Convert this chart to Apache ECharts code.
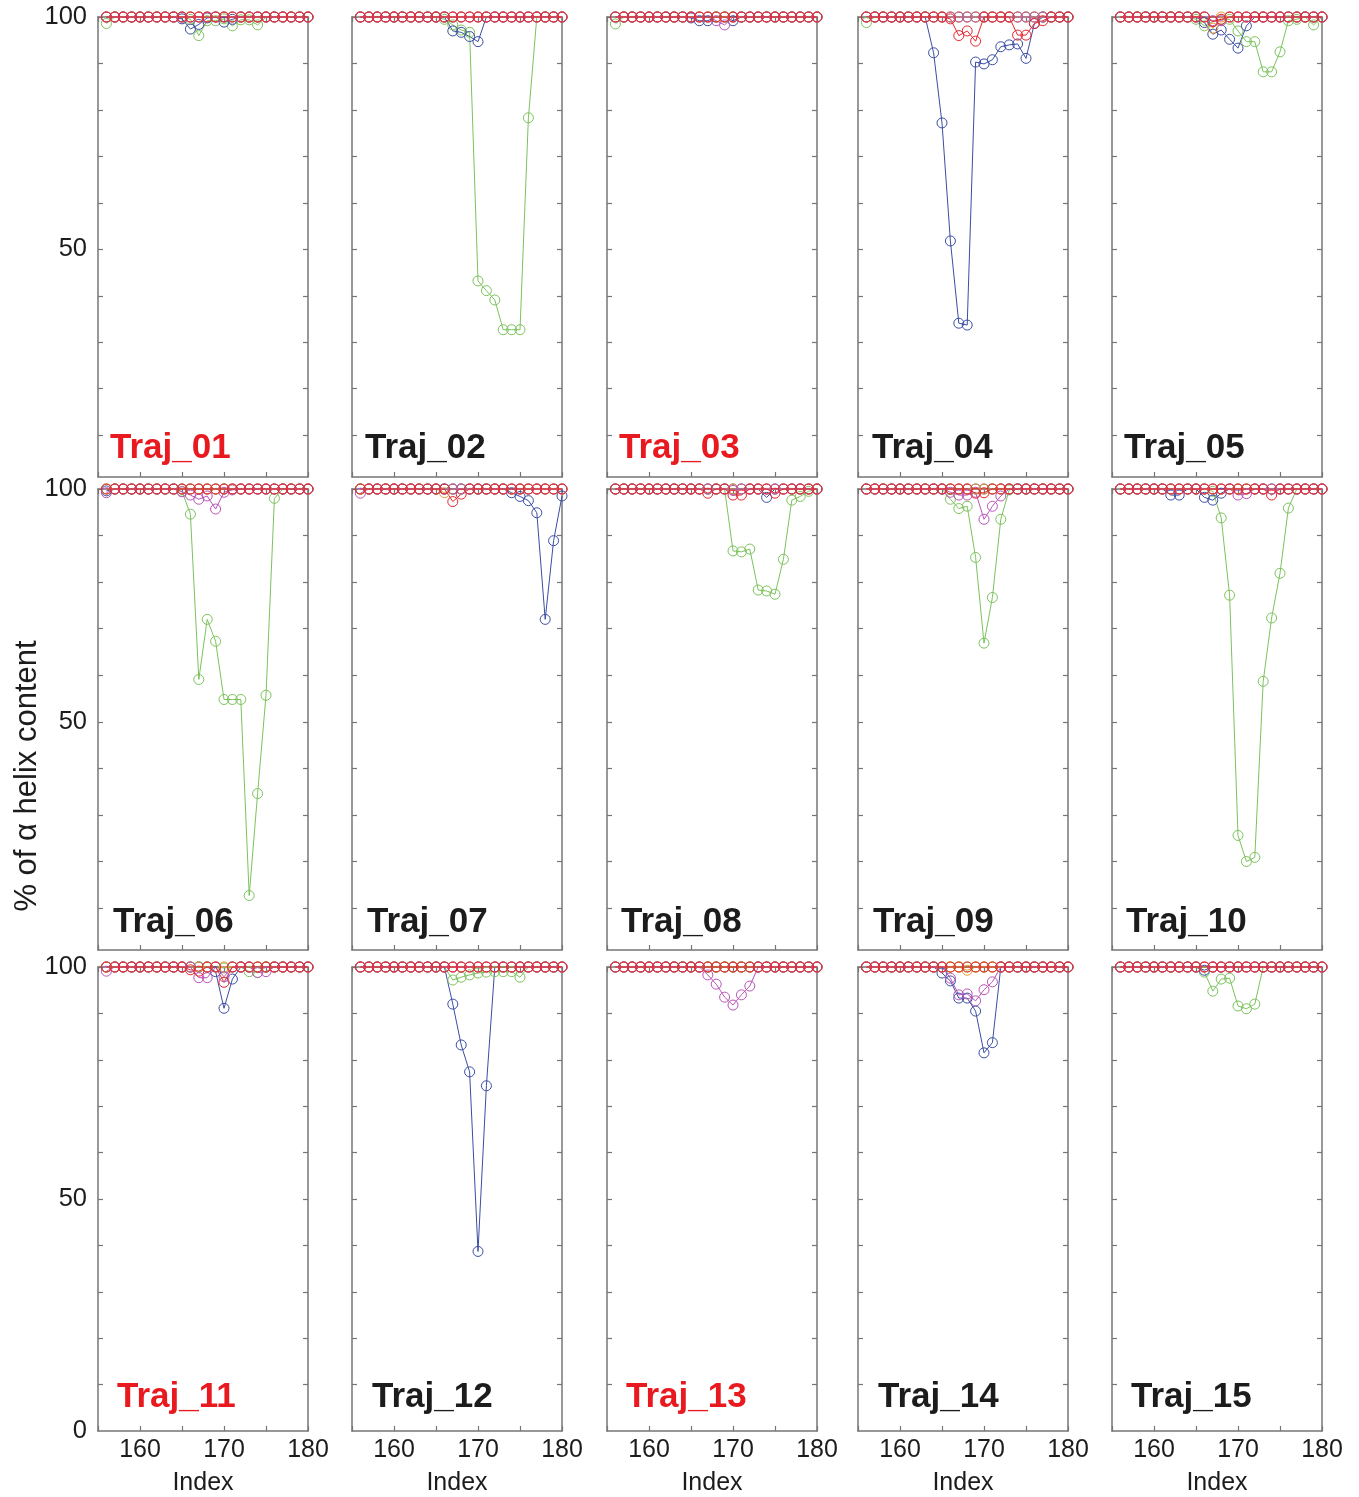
<!DOCTYPE html>
<html>
<head>
<meta charset="utf-8">
<title>% of α helix content per residue</title>
<script src="https://cdn.jsdelivr.net/npm/echarts@6/dist/echarts.min.js"></script>
<style>
  html, body { margin: 0; padding: 0; background: #ffffff; }
  #chart { width: 1359px; height: 1497px; }
</style>
</head>
<body>
<div id="chart"></div>
<script>
// Residue indices on the x axis
const residueIndex = [156,157,158,159,160, 161,162,163,164,165, 166,167,168,169,170, 171,172,173,174,175, 176,177,178,179,180];
const xTickLabels = [160, 170, 180];
const yTickLabelsTop = [50, 100];
const yTickLabelsBottom = [0, 50, 100];
const yTickMarks = [10, 20, 30, 40, 50, 60, 70, 80, 90, 100];

const trajNames = ['Traj_01','Traj_02','Traj_03','Traj_04','Traj_05',
                   'Traj_06','Traj_07','Traj_08','Traj_09','Traj_10',
                   'Traj_11','Traj_12','Traj_13','Traj_14','Traj_15'];
const redTitles = ['Traj_01','Traj_03','Traj_11','Traj_13'];

// Helix content (%) per residue, one array per trajectory and replica colour
const t01_blue    = [100,100,100,100,100, 100,100,100,100,99.6, 97.4,98.4,99.8,100,98.9, 99.5,100,100,100,100, 100,100,100,100,100];
const t01_green   = [98.6,100,100,100,100, 100,100,100,100,100, 99.5,96.0,99.2,99.2,99.6, 98.1,99.4,99.4,98.3,100, 100,100,100,100,100];
const t01_magenta = [100,100,100,100,100, 100,100,100,100,100, 100,100,100,100,100, 100,100,100,100,100, 100,100,100,100,100];
const t01_orange  = [100,100,100,100,100, 100,100,100,100,100, 100,100,100,100,100, 100,100,100,100,100, 100,100,100,100,100];
const t01_red     = [100,100,100,100,100, 100,100,100,100,100, 100,100,100,100,100, 100,100,100,100,100, 100,100,100,100,100];

const t02_blue    = [100,100,100,100,100, 100,100,100,100,100, 100,97.0,96.7,95.8,94.7, 100,100,100,100,100, 100,100,100,100,100];
const t02_green   = [100,100,100,100,100, 100,100,100,100,100, 99.5,98.3,97.2,96.7,43.2, 41.1,39.1,32.7,32.7,32.7, 78.3,100,100,100,100];
const t02_magenta = [100,100,100,100,100, 100,100,100,100,100, 100,100,100,100,100, 100,100,100,100,100, 100,100,100,100,100];
const t02_orange  = [100,100,100,100,100, 100,100,100,100,100, 100,100,100,100,100, 100,100,100,100,100, 100,100,100,100,100];
const t02_red     = [100,100,100,100,100, 100,100,100,100,100, 100,100,100,100,100, 100,100,100,100,100, 100,100,100,100,100];

const t03_blue    = [100,100,100,100,100, 100,100,100,100,99.8, 99.2,99.2,100,100,99.2, 100,100,100,100,100, 100,100,100,100,100];
const t03_green   = [98.5,100,100,100,100, 100,100,100,100,100, 100,100,100,100,100, 100,100,100,100,100, 100,100,100,100,100];
const t03_magenta = [100,100,100,100,100, 100,100,100,100,100, 100,100,99.2,98.3,100, 100,100,100,100,100, 100,100,100,100,100];
const t03_orange  = [100,100,100,100,100, 100,100,100,100,100, 100,100,100,100,100, 100,100,100,100,100, 100,100,100,100,100];
const t03_red     = [100,100,100,100,100, 100,100,100,100,100, 100,100,100,100,100, 100,100,100,100,100, 100,100,100,100,100];

const t04_blue    = [100,100,100,100,100, 100,100,100,92.3,77.2, 51.8,34.1,33.7,90.3,89.9, 90.8,93.6,94.0,94.2,91.1, 98.6,100,100,100,100];
const t04_green   = [98.8,100,100,100,100, 100,100,100,100,100, 100,100,100,100,100, 100,100,100,100,100, 100,100,100,100,100];
const t04_magenta = [100,100,100,100,100, 100,100,100,100,100, 100,100,100,100,100, 100,100,100,100,100, 100,100,100,100,100];
const t04_orange  = [100,100,100,100,100, 100,100,100,100,100, 100,100,100,100,100, 100,100,100,100,100, 100,100,100,100,100];
const t04_red     = [100,100,100,100,100, 100,100,100,100,100, 99.6,96.0,97.0,94.8,100, 100,100,100,96.1,96.1, 98.6,99.2,100,100,100];

const t05_blue    = [100,100,100,100,100, 100,100,100,100,100, 98.8,96.3,97.2,95.2,93.3, 98.1,100,100,100,100, 100,100,100,100,100];
const t05_green   = [100,100,100,100,100, 100,100,100,100,99.5, 98.1,99.0,99.5,99.5,97.0, 94.7,94.7,88.2,88.2,92.5, 99.2,99.5,100,98.3,100];
const t05_magenta = [100,100,100,100,100, 100,100,100,100,100, 100,99.2,99.2,100,100, 100,100,100,100,100, 100,100,100,100,100];
const t05_orange  = [100,100,100,100,100, 100,100,100,100,100, 100,97.6,100,100,100, 100,100,100,100,100, 100,100,100,100,100];
const t05_red     = [100,100,100,100,100, 100,100,100,100,100, 100,99.0,99.5,100,100, 100,100,100,100,100, 100,100,100,100,100];

const t06_blue    = [99.6,100,100,100,100, 100,100,100,100,100, 100,100,100,100,100, 100,100,100,100,100, 100,100,100,100,100];
const t06_green   = [100,100,100,100,100, 100,100,100,100,99.5, 94.6,59.1,72.0,67.3,54.8, 54.8,54.8,12.7,34.6,55.7, 98.0,100,100,100,100];
const t06_magenta = [99.2,100,100,100,100, 100,100,100,100,99.4, 98.7,97.8,98.5,95.7,99.3, 99.8,100,100,100,100, 100,100,100,100,100];
const t06_orange  = [100,100,100,100,100, 100,100,100,100,100, 100,100,100,100,100, 100,100,100,100,100, 100,100,100,100,100];
const t06_red     = [100,100,100,100,100, 100,100,100,100,100, 100,100,100,100,100, 100,100,100,100,100, 100,100,100,100,100];

const t07_blue    = [100,100,100,100,100, 100,100,100,100,100, 100,100,100,100,100, 100,100,100,99.2,98.4, 97.5,94.9,72.0,88.9,98.5];
const t07_green   = [100,100,100,100,100, 100,100,100,100,100, 100,100,100,100,100, 100,100,100,100,100, 100,100,100,100,100];
const t07_magenta = [99.1,100,100,100,100, 100,100,100,100,100, 100,100,100,100,100, 100,100,100,100,100, 100,100,100,100,100];
const t07_orange  = [100,100,100,100,100, 100,100,100,100,100, 99.2,100,100,100,100, 100,100,100,100,100, 100,100,100,100,100];
const t07_red     = [100,100,100,100,100, 100,100,100,100,100, 100,97.3,98.9,100,100, 100,100,100,100,100, 100,100,100,100,100];

const t08_blue    = [100,100,100,100,100, 100,100,100,100,100, 100,100,100,100,100, 100,100,100,98.2,100, 100,100,100,100,100];
const t08_green   = [100,100,100,100,100, 100,100,100,100,100, 100,100,100,100,86.7, 86.5,87.1,78.3,78.1,77.4, 84.9,97.6,98.4,99.5,100];
const t08_magenta = [100,100,100,100,100, 100,100,100,100,100, 100,100,100,100,99.7, 100,100,100,100,100, 100,100,100,100,100];
const t08_orange  = [100,100,100,100,100, 100,100,100,100,100, 100,100,100,100,100, 100,100,100,100,100, 100,100,100,100,100];
const t08_red     = [100,100,100,100,100, 100,100,100,100,100, 100,99.1,100,100,98.7, 98.7,100,100,100,99.1, 100,100,100,100,100];

const t09_blue    = [100,100,100,100,100, 100,100,100,100,100, 100,100,100,100,100, 100,100,100,100,100, 100,100,100,100,100];
const t09_green   = [100,100,100,100,100, 100,100,100,100,100, 97.8,95.8,96.3,85.3,66.9, 76.7,93.5,99.8,100,100, 100,100,100,100,100];
const t09_magenta = [100,100,100,100,100, 100,100,100,100,100, 99.3,98.7,98.7,99.3,93.5, 96.3,98.5,100,100,100, 100,100,100,100,100];
const t09_orange  = [100,100,100,100,100, 100,100,100,100,100, 100,100,100,100,100, 100,100,100,100,100, 100,100,100,100,100];
const t09_red     = [100,100,100,100,100, 100,100,100,100,100, 100,100,100,99.1,99.2, 100,100,100,100,100, 100,100,100,100,100];

const t10_blue    = [100,100,100,100,100, 100,98.7,98.7,100,100, 98.2,97.6,99.1,100,100, 100,100,100,100,100, 100,100,100,100,100];
const t10_green   = [100,100,100,100,100, 100,100,100,100,100, 100,99.5,93.8,77.2,25.6, 20.0,20.9,58.7,72.3,81.9, 95.9,100,100,100,100];
const t10_magenta = [100,100,100,100,100, 100,100,100,100,100, 100,100,100,100,98.7, 99.0,100,100,100,100, 100,100,100,100,100];
const t10_orange  = [100,100,100,100,100, 100,100,100,100,100, 100,100,100,100,100, 100,100,100,100,100, 100,100,100,100,100];
const t10_red     = [100,100,100,100,100, 100,100,100,100,100, 100,100,100,100,100, 100,100,100,98.7,100, 100,100,100,100,100];

const t11_blue    = [100,100,100,100,100, 100,100,100,100,100, 100,100,100,99.0,91.1, 97.4,100,100,100,100, 100,100,100,100,100];
const t11_green   = [100,100,100,100,100, 100,100,100,100,100, 100,100,100,100,99.8, 100,100,99.0,98.8,100, 100,100,100,100,100];
const t11_magenta = [99.1,100,100,100,100, 100,100,100,100,100, 100,97.7,97.7,100,97.9, 100,100,100,98.8,99.0, 100,100,100,100,100];
const t11_orange  = [100,100,100,100,100, 100,100,100,100,100, 100,100,100,100,100, 100,100,100,100,100, 100,100,100,100,100];
const t11_red     = [100,100,100,100,100, 100,100,100,100,100, 99.4,99.1,100,100,96.7, 100,100,100,100,100, 100,100,100,100,100];

const t12_blue    = [100,100,100,100,100, 100,100,100,100,100, 100,92.0,83.2,77.4,38.7, 74.4,100,100,100,100, 100,100,100,100,100];
const t12_green   = [100,100,100,100,100, 100,100,100,100,100, 100,97.2,97.8,98.3,98.7, 98.9,99.0,99.0,99.0,97.8, 100,100,100,100,100];
const t12_magenta = [100,100,100,100,100, 100,100,100,100,100, 100,100,100,100,100, 100,100,100,100,100, 100,100,100,100,100];
const t12_orange  = [100,100,100,100,100, 100,100,100,100,100, 100,100,100,100,100, 100,100,100,100,100, 100,100,100,100,100];
const t12_red     = [100,100,100,100,100, 100,100,100,100,100, 100,100,100,100,100, 100,100,100,100,100, 100,100,100,100,100];

const t13_blue    = [100,100,100,100,100, 100,100,100,100,100, 100,100,100,100,100, 100,100,100,100,100, 100,100,100,100,100];
const t13_green   = [100,100,100,100,100, 100,100,100,100,100, 100,100,100,100,100, 100,100,100,100,100, 100,100,100,100,100];
const t13_magenta = [100,100,100,100,100, 100,100,100,100,100, 100,98.3,96.3,93.5,91.8, 94.0,95.9,100,100,100, 100,100,100,100,100];
const t13_orange  = [100,100,100,100,100, 100,100,100,100,100, 100,100,100,100,100, 100,100,100,100,100, 100,100,100,100,100];
const t13_red     = [100,100,100,100,100, 100,100,100,100,100, 100,100,100,100,100, 100,100,100,100,100, 100,100,100,100,100];

const t14_blue    = [100,100,100,100,100, 100,100,100,100,98.7, 97.0,93.3,93.3,90.5,81.5, 83.7,100,100,100,100, 100,100,100,100,100];
const t14_green   = [100,100,100,100,100, 100,100,100,100,100, 100,100,100,100,100, 100,100,100,100,100, 100,100,100,100,100];
const t14_magenta = [100,100,100,100,100, 100,100,100,100,100, 97.6,94.0,94.2,92.7,95.1, 96.8,100,100,100,100, 100,100,100,100,100];
const t14_orange  = [100,100,100,100,100, 100,100,100,100,100, 100,100,99.3,100,100, 100,100,100,100,100, 100,100,100,100,100];
const t14_red     = [100,100,100,100,100, 100,100,100,100,100, 100,100,100,100,100, 100,100,100,100,100, 100,100,100,100,100];

const t15_blue    = [100,100,100,100,100, 100,100,100,100,100, 99.3,100,100,100,100, 100,100,100,100,100, 100,100,100,100,100];
const t15_green   = [100,100,100,100,100, 100,100,100,100,100, 98.9,94.8,97.4,97.6,91.6, 91.0,92.0,100,100,100, 100,100,100,100,100];
const t15_magenta = [100,100,100,100,100, 100,100,100,100,100, 100,100,100,100,100, 100,100,100,100,100, 100,100,100,100,100];
const t15_orange  = [100,100,100,100,100, 100,100,100,100,100, 100,100,100,100,100, 100,100,100,100,100, 100,100,100,100,100];
const t15_red     = [100,100,100,100,100, 100,100,100,100,100, 100,100,100,100,100, 100,100,100,100,100, 100,100,100,100,100];

// Drawing order per panel: green, blue, orange, magenta, red (red on top)
const panelData = [
  [t01_green, t01_blue, t01_orange, t01_magenta, t01_red],
  [t02_green, t02_blue, t02_orange, t02_magenta, t02_red],
  [t03_green, t03_blue, t03_orange, t03_magenta, t03_red],
  [t04_green, t04_blue, t04_orange, t04_magenta, t04_red],
  [t05_green, t05_blue, t05_orange, t05_magenta, t05_red],
  [t06_green, t06_blue, t06_orange, t06_magenta, t06_red],
  [t07_green, t07_blue, t07_orange, t07_magenta, t07_red],
  [t08_green, t08_blue, t08_orange, t08_magenta, t08_red],
  [t09_green, t09_blue, t09_orange, t09_magenta, t09_red],
  [t10_green, t10_blue, t10_orange, t10_magenta, t10_red],
  [t11_green, t11_blue, t11_orange, t11_magenta, t11_red],
  [t12_green, t12_blue, t12_orange, t12_magenta, t12_red],
  [t13_green, t13_blue, t13_orange, t13_magenta, t13_red],
  [t14_green, t14_blue, t14_orange, t14_magenta, t14_red],
  [t15_green, t15_blue, t15_orange, t15_magenta, t15_red]
];
const seriesColors = ['#7cc35c', '#3b4ea3', '#e79a35', '#b955b8', '#e8262c'];

// Panel layout
const colLeft = [98, 352, 607, 858, 1112];
const rowTop = [17, 489, 967];
const rowHeight = [460, 461, 465];
const rowMin = [1, 1, 0];
const panelWidth = 210;
const titleX = [[110, 365, 619, 872, 1124], [113, 367, 621, 873, 1126], [117, 372, 626, 878, 1131]];
const titleY = [448, 922, 1397];

const FONT = '"Liberation Sans", Arial, Helvetica, sans-serif';
const frameColor = '#767676';
const textColor = '#1c1c1c';
const titleRed = '#e8191f';

const grids = [], xAxes = [], yAxes = [], series = [], graphics = [];

trajNames.forEach((name, p) => {
  const r = Math.floor(p / 5), c = p % 5;
  grids.push({ left: colLeft[c], top: rowTop[r], width: panelWidth, height: rowHeight[r], containLabel: false });

  const axisLine = { show: true, onZero: false, lineStyle: { color: frameColor, width: 1.5 } };
  const tick = { show: true, inside: true, length: 5, lineStyle: { color: frameColor, width: 1.2 } };

  ['bottom', 'top'].forEach(pos => {
    xAxes.push({
      gridIndex: p, type: 'value', position: pos, min: 155, max: 180, interval: 5,
      axisLine, axisTick: tick, splitLine: { show: false },
      axisLabel: {
        show: pos === 'bottom' && r === 2,
        customValues: xTickLabels,
        fontSize: 25, fontFamily: FONT, color: textColor, margin: 7
      },
      name: (pos === 'bottom' && r === 2) ? 'Index' : '',
      nameLocation: 'middle', nameGap: 40,
      nameTextStyle: { fontSize: 25, fontFamily: FONT, color: textColor }
    });
  });
  ['left', 'right'].forEach(pos => {
    yAxes.push({
      gridIndex: p, type: 'value', position: pos, min: rowMin[r], max: 100,
      axisLine, splitLine: { show: false },
      axisTick: Object.assign({}, tick, { customValues: yTickMarks }),
      axisLabel: {
        show: pos === 'left' && c === 0,
        customValues: r === 2 ? yTickLabelsBottom : yTickLabelsTop,
        fontSize: 25.5, fontFamily: FONT, color: textColor, margin: 11
      }
    });
  });

  panelData[p].forEach((vals, k) => {
    series.push({
      type: 'line',
      xAxisIndex: p * 2, yAxisIndex: p * 2,
      data: residueIndex.map((x, i) => [x, vals[i]]),
      symbol: 'circle', symbolSize: 10,
      itemStyle: { color: 'rgba(0,0,0,0)', borderColor: seriesColors[k], borderWidth: 1 },
      lineStyle: { color: seriesColors[k], width: 1 },
      emphasis: { disabled: true },
      clip: false, silent: true, animation: false
    });
  });

  graphics.push({
    type: 'text', x: titleX[r][c], y: titleY[r],
    style: {
      text: name, font: 'bold 35px ' + FONT,
      fill: redTitles.includes(name) ? titleRed : textColor,
      textAlign: 'left', textVerticalAlign: 'middle'
    }
  });
});

graphics.push({
  type: 'text', x: 27, y: 776, rotation: Math.PI / 2,
  style: {
    text: '% of α helix content', font: '31px ' + FONT, fill: textColor,
    textAlign: 'center', textVerticalAlign: 'middle'
  }
});

const chart = echarts.init(document.getElementById('chart'), null, { renderer: 'canvas' });
chart.setOption({
  backgroundColor: '#ffffff',
  animation: false,
  grid: grids,
  xAxis: xAxes,
  yAxis: yAxes,
  series: series,
  graphic: graphics
});
</script>
</body>
</html>
